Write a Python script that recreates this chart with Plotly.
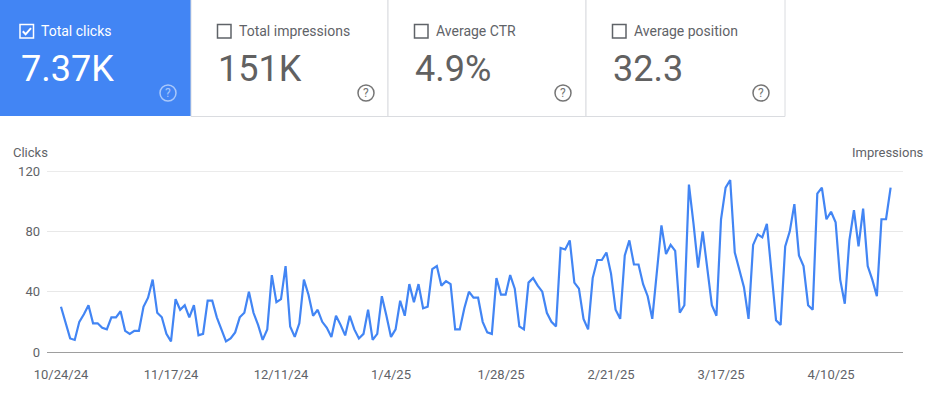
import pandas as pd
import plotly.graph_objects as go

# ---------------- data ----------------
start_date = "2024-10-24"
clicks = [
    30, 19, 9, 8, 20, 25, 31, 19, 19, 16, 15, 23, 23, 27, 14, 12, 14, 14, 30, 36,
    48, 26, 23, 12, 7, 35, 28, 31, 23, 31, 11, 12, 34, 34, 23, 15, 7, 9, 13, 23,
    26, 40, 26, 18, 8, 15, 51, 33, 35, 57, 17, 10, 19, 48, 38, 24, 28, 20, 16, 10,
    24, 18, 11, 24, 15, 9, 12, 28, 8, 12, 37, 24, 10, 15, 34, 24, 45, 33, 45, 29,
    30, 55, 57, 44, 47, 45, 15, 15, 29, 40, 36, 36, 20, 13, 12, 49, 38, 38, 51, 42,
    17, 15, 46, 49, 44, 40, 26, 20, 17, 69, 68, 74, 46, 42, 22, 15, 49, 61, 61, 66,
    52, 28, 22, 64, 74, 58, 58, 45, 37, 22, 55, 84, 65, 71, 67, 26, 31, 111, 85, 56,
    80, 56, 31, 24, 88, 109, 114, 66, 54, 43, 22, 71, 78, 76, 85, 54, 21, 18, 70, 80,
    98, 64, 57, 31, 28, 105, 109, 88, 93, 86, 48, 32, 74, 94, 70, 95, 57, 48, 37, 88,
    88, 109,
]
dates = pd.date_range(start_date, periods=len(clicks), freq="D")

x_tick_dates = ["2024-10-24", "2024-11-17", "2024-12-11", "2025-01-04",
                "2025-01-28", "2025-02-21", "2025-03-17", "2025-04-10"]
x_tick_labels = ["10/24/24", "11/17/24", "12/11/24", "1/4/25",
                 "1/28/25", "2/21/25", "3/17/25", "4/10/25"]
y_ticks = [0, 40, 80, 120]

card_labels = ["Total clicks", "Total impressions", "Average CTR", "Average position"]
card_values = ["7.37K", "151K", "4.9%", "32.3"]

# ---------------- layout helpers ----------------
W, H = 940, 393
L, R, T, B = 47, 903, 171, 352
BLUE = "#4285F4"
GRAY = "#5f6368"
FONT = "Roboto"


def px(x):
    return (x - L) / (R - L)


def py(y):
    return (B - y) / (B - T)


fig = go.Figure()
fig.add_trace(go.Scatter(
    x=dates, y=clicks, mode="lines",
    line=dict(color=BLUE, width=2.2), hoverinfo="skip", showlegend=False,
))

shapes = []
annotations = []

# cards
card_x = [(0, 191), (191, 388), (388, 586), (586, 785)]
for i, (x0, x1) in enumerate(card_x):
    if i == 0:
        shapes.append(dict(type="rect", xref="paper", yref="paper",
                           x0=px(-2), x1=px(x1), y0=py(116), y1=py(-2),
                           fillcolor=BLUE, line=dict(width=0), layer="below"))
    else:
        shapes.append(dict(type="rect", xref="paper", yref="paper",
                           x0=px(x0), x1=px(x1), y0=py(116.5), y1=py(-3),
                           fillcolor="white", line=dict(color="#dadce0", width=1),
                           layer="below"))

for i, (x0, x1) in enumerate(card_x):
    sel = i == 0
    fg = "white" if sel else GRAY
    cb_x = x0 + (20 if sel else 26.5)
    # checkbox
    shapes.append(dict(type="rect", xref="paper", yref="paper",
                       x0=px(cb_x), x1=px(cb_x + 13.5), y0=py(38), y1=py(24.5),
                       line=dict(color=fg, width=1.5), fillcolor="rgba(0,0,0,0)"))
    if sel:
        path = "M {} {} L {} {} L {} {}".format(
            px(cb_x + 2.8), py(31.3), px(cb_x + 5.6), py(34.3), px(cb_x + 11), py(28.2))
        shapes.append(dict(type="path", xref="paper", yref="paper", path=path,
                           line=dict(color="white", width=2)))
    # label
    annotations.append(dict(xref="paper", yref="paper", x=px(cb_x + 19), y=py(31),
                            xanchor="left", yanchor="middle", showarrow=False,
                            text=card_labels[i],
                            font=dict(family=FONT, size=14, color=fg)))
    # value
    annotations.append(dict(xref="paper", yref="paper", x=px(cb_x - 1.5), y=py(69),
                            xanchor="left", yanchor="middle", showarrow=False,
                            text=card_values[i],
                            font=dict(family=FONT, size=36,
                                      color="white" if sel else "#616161")))
    # help icon
    hx = x0 + 168 if i == 0 else x0 + 175
    hc = "rgba(255,255,255,0.55)" if sel else "#757575"
    shapes.append(dict(type="circle", xref="paper", yref="paper",
                       x0=px(hx - 8), x1=px(hx + 8), y0=py(101), y1=py(85),
                       line=dict(color=hc, width=1.5)))
    annotations.append(dict(xref="paper", yref="paper", x=px(hx), y=py(93.5),
                            xanchor="center", yanchor="middle", showarrow=False,
                            text="?", font=dict(family=FONT, size=12, color=hc)))

# top gridline (slightly heavier)
shapes.append(dict(type="line", xref="paper", yref="y", x0=0, x1=1, y0=120, y1=120,
                   line=dict(color="#ebebeb", width=2), layer="below"))

annotations.append(dict(xref="paper", yref="paper", x=px(11), y=py(152),
                        xanchor="left", yanchor="middle", showarrow=False,
                        text="Clicks", font=dict(family=FONT, size=13, color=GRAY)))
annotations.append(dict(xref="paper", yref="paper", x=px(926), y=py(152),
                        xanchor="right", yanchor="middle", showarrow=False,
                        text="Impressions", font=dict(family=FONT, size=13, color=GRAY)))

x_start = pd.Timestamp(start_date) - pd.Timedelta(days=3.05)
x_end = pd.Timestamp(start_date) + pd.Timedelta(days=183.7)

fig.update_layout(
    width=W, height=H,
    margin=dict(l=L, r=W - R, t=T, b=H - B, pad=0),
    paper_bgcolor="white", plot_bgcolor="white",
    font=dict(family=FONT, color=GRAY, size=13),
    shapes=shapes, annotations=annotations,
    xaxis=dict(type="date", range=[x_start, x_end], tickvals=x_tick_dates,
               ticktext=x_tick_labels, showgrid=False, zeroline=False,
               showline=True, linecolor="#9e9e9e", linewidth=1,
               ticks="", ticklabelstandoff=10,
               tickfont=dict(family=FONT, size=13, color=GRAY)),
    yaxis=dict(range=[0, 120], tickvals=y_ticks, showgrid=True,
               gridcolor="#e8e8e8", gridwidth=1, zeroline=False, showline=False,
               ticks="", ticklabelstandoff=6,
               tickfont=dict(family=FONT, size=13, color=GRAY)),
    showlegend=False,
)

fig.write_html(
    "out.html",
    config={"displayModeBar": False, "staticPlot": True},
    post_script="document.body.style.margin='0';document.body.style.overflow='hidden';",
)
